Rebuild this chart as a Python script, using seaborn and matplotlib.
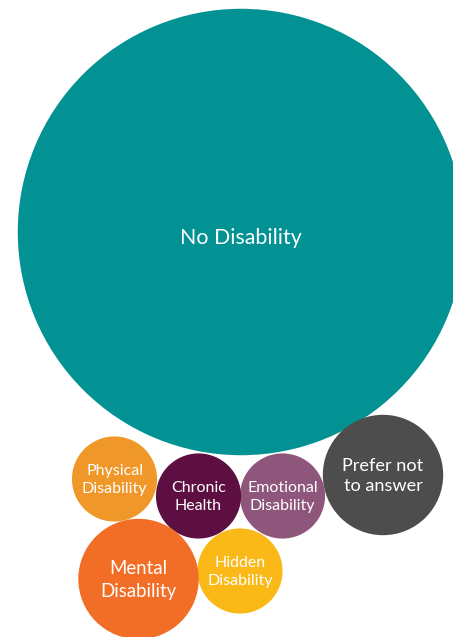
import matplotlib
matplotlib.use("Agg")
import matplotlib.pyplot as plt
import seaborn as sns
import pandas as pd
import numpy as np

# Survey responses by disability status
categories = ["No Disability", "Prefer not to answer", "Emotional Disability",
              "Chronic Health", "Physical Disability", "Hidden Disability",
              "Mental Disability"]
counts = [55, 4, 2, 2, 2, 2, 4]
labels = ["No Disability", "Prefer not\nto answer", "Emotional\nDisability",
          "Chronic\nHealth", "Physical\nDisability", "Hidden\nDisability",
          "Mental\nDisability"]
colors = ["#029293", "#4D4D4D", "#8E567B", "#5E0F42", "#F0972A", "#FBB918",
          "#F26E27"]

# Packed-bubble layout, in canvas pixel coordinates
centers = {
    "No Disability": (241, 232),
    "Prefer not to answer": (383, 475),
    "Emotional Disability": (282.5, 496),
    "Chronic Health": (198.5, 496),
    "Physical Disability": (114.5, 479),
    "Hidden Disability": (240, 571),
    "Mental Disability": (138.5, 579),
}
# Label font size and vertical nudge (pixels) per bubble
label_style = {
    "No Disability": (15.4, 6),
    "Prefer not to answer": (13.1, 1),
    "Emotional Disability": (11.5, 1),
    "Chronic Health": (11.5, 1),
    "Physical Disability": (11.5, 1),
    "Hidden Disability": (11.5, 1),
    "Mental Disability": (13.4, 1),
}

DPI = 100
W, H = 453, 637
PX_PER_UNIT = 30.1  # bubble radius in pixels per sqrt(count)

sns.set_theme(style="white")
plt.rcParams["font.family"] = ["Lato", "DejaVu Sans"]

fig = plt.figure(figsize=(W / DPI, H / DPI), dpi=DPI)
ax = fig.add_axes([0, 0, 1, 1])

df = pd.DataFrame({
    "category": categories,
    "count": counts,
    "x": [centers[c][0] for c in categories],
    "y": [centers[c][1] for c in categories],
})


def marker_area(v):
    """Scatter marker area (points^2) for a bubble whose area tracks v."""
    d_pt = 2 * PX_PER_UNIT * np.sqrt(v) * 72 / DPI
    return d_pt ** 2


vmin, vmax = min(counts), max(counts)
sns.scatterplot(
    data=df, x="x", y="y", hue="category",
    palette=dict(zip(categories, colors)),
    size="count", sizes=(marker_area(vmin), marker_area(vmax)),
    size_norm=(vmin, vmax), linewidth=0, alpha=1, legend=False, ax=ax,
)

for cat, lab in zip(categories, labels):
    x, y = centers[cat]
    fs, dy = label_style[cat]
    ax.text(x, y + dy, lab, ha="center", va="center", color="white",
            fontsize=fs, linespacing=1.38)

ax.set_xlim(0, W)
ax.set_ylim(H, 0)
ax.axis("off")

fig.savefig("out.png", dpi=DPI, facecolor="white")
